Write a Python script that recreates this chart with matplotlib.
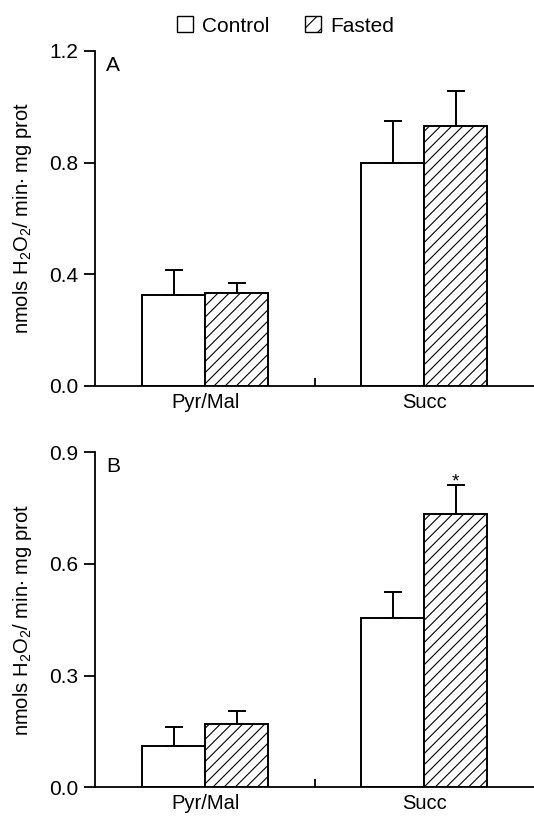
import numpy as np
import matplotlib.pyplot as plt
from matplotlib.patches import Patch

plt.rcParams['font.family'] = ['Liberation Sans', 'DejaVu Sans']
plt.rcParams['mathtext.fontset'] = 'custom'
plt.rcParams['mathtext.rm'] = 'Liberation Sans'
plt.rcParams['mathtext.default'] = 'regular'
plt.rcParams['hatch.linewidth'] = 0.8

groups = ['Pyr/Mal', 'Succ']
series = ['Control', 'Fasted']

# panel A
a_control = [0.326, 0.797]
a_control_err = [0.089, 0.153]
a_fasted = [0.331, 0.932]
a_fasted_err = [0.037, 0.123]

# panel B
b_control = [0.110, 0.456]
b_control_err = [0.052, 0.070]
b_fasted = [0.171, 0.735]
b_fasted_err = [0.034, 0.078]

ylabel = 'nmols H$_2$O$_2$/ min$\\cdot$ mg prot'

def draw_panel(ax, ctrl, ctrl_err, fast, fast_err, ymax, yticks, letter, star=None):
    x = np.arange(len(groups))
    w = 0.287
    ekw = dict(ecolor='black', elinewidth=1.4, capsize=6.8, capthick=1.4)
    ax.bar(x - w/2, ctrl, w, color='white', edgecolor='black', linewidth=1.4,
           yerr=[np.zeros(len(ctrl)), ctrl_err], error_kw=ekw, zorder=2)
    ax.bar(x + w/2, fast, w, color='white', edgecolor='black', linewidth=1.4,
           hatch='///', yerr=[np.zeros(len(fast)), fast_err], error_kw=ekw, zorder=2)
    ax.set_xlim(-0.502, 1.5)
    ax.set_ylim(0, ymax)
    ax.set_yticks(yticks)
    ax.set_yticklabels(['%.1f' % t for t in yticks])
    ax.set_xticks(x)
    ax.set_xticklabels(groups)
    ax.set_xticks([0.5], minor=True)
    ax.tick_params(axis='x', which='major', length=0, pad=5, labelsize=14.5)
    ax.tick_params(axis='x', which='minor', direction='in', length=6, width=1.3)
    ax.tick_params(axis='y', direction='out', length=8, width=1.3, labelsize=15, pad=4)
    for s in ['top', 'right']:
        ax.spines[s].set_visible(False)
    for s in ['left', 'bottom']:
        ax.spines[s].set_linewidth(1.3)
    ax.set_ylabel(ylabel, fontsize=14.5)
    ax.yaxis.set_label_coords(-0.14, 0.5)
    ax.text(0.025, 0.985, letter, transform=ax.transAxes, ha='left', va='top', fontsize=15)
    if star is not None:
        i = star
        ax.text(x[i] + w/2, fast[i] + fast_err[i] - 0.004, '*', ha='center', va='baseline', fontsize=14)

fig = plt.figure(figsize=(5.34, 8.16), dpi=100)
axA = fig.add_axes([0.178, 0.5273, 0.822, 0.4102])
axB = fig.add_axes([0.178, 0.0352, 0.822, 0.4105])

draw_panel(axA, a_control, a_control_err, a_fasted, a_fasted_err, 1.2, [0.0, 0.4, 0.8, 1.2], 'A')
draw_panel(axB, b_control, b_control_err, b_fasted, b_fasted_err, 0.9, [0.0, 0.3, 0.6, 0.9], 'B', star=1)

handles = [Patch(facecolor='white', edgecolor='black', linewidth=1.0, label=series[0]),
           Patch(facecolor='white', edgecolor='black', linewidth=1.0, hatch='//', label=series[1])]
fig.legend(handles=handles, loc='upper center', bbox_to_anchor=(0.535, 1.003), ncol=2,
           frameon=False, fontsize=15, handlelength=0.75, handleheight=0.8,
           handletextpad=0.45, columnspacing=1.7)

fig.savefig('out.png', dpi=100)
